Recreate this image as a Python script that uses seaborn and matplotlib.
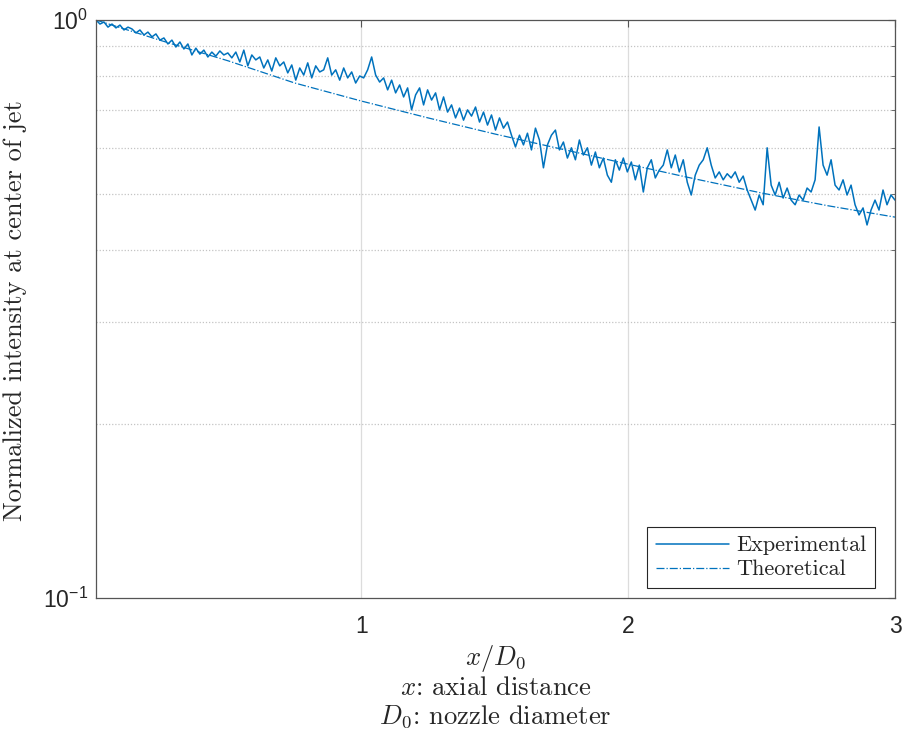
import numpy as np
import pandas as pd
import matplotlib
matplotlib.use("Agg")
import matplotlib.pyplot as plt
import seaborn as sns
from matplotlib.ticker import FixedLocator, LogLocator, NullFormatter

# Normalized centreline intensity measured along the jet axis
x_start, x_end = 0.005, 3.0
intensity = [
    1.000, 0.984, 0.992, 0.972, 0.984, 0.969, 0.980, 0.961, 0.972,
    0.965, 0.950, 0.961, 0.942, 0.953, 0.935, 0.946, 0.923,
    0.931, 0.909, 0.923, 0.898, 0.916, 0.891, 0.909, 0.870,
    0.894, 0.873, 0.887, 0.863, 0.880, 0.866, 0.884, 0.870,
    0.877, 0.860, 0.880, 0.846, 0.887, 0.833, 0.870, 0.853,
    0.863, 0.826, 0.853, 0.816, 0.860, 0.833, 0.846, 0.810,
    0.836, 0.787, 0.826, 0.803, 0.843, 0.794, 0.833, 0.813,
    0.820, 0.860, 0.803,
    0.820, 0.787, 0.826, 0.794, 0.813, 0.778, 0.800,
    0.794, 0.820, 0.863, 0.803, 0.781, 0.794,
    0.757, 0.787, 0.748, 0.772, 0.736, 0.763, 0.699,
    0.742, 0.763, 0.713, 0.757, 0.727, 0.748, 0.699, 0.736,
    0.693, 0.713, 0.677, 0.704, 0.671, 0.699, 0.682, 0.707, 0.666,
    0.693, 0.658, 0.685, 0.645, 0.677, 0.650, 0.666, 0.632,
    0.603,
    0.632, 0.608, 0.637, 0.596, 0.650, 0.620,
    0.555, 0.608, 0.632, 0.645, 0.596, 0.615, 0.577, 0.601, 0.573, 0.620, 0.584, 0.601, 0.561,
    0.591, 0.555, 0.577, 0.539, 0.524, 0.573, 0.550,
    0.577, 0.546, 0.568, 0.529, 0.561, 0.504, 0.555, 0.573, 0.533, 0.550, 0.561,
    0.596, 0.555, 0.584, 0.546, 0.573,
    0.524, 0.498, 0.539,
    0.561, 0.573, 0.601,
    0.561, 0.533, 0.546, 0.529, 0.542,
    0.533, 0.546, 0.524, 0.537,
    0.508, 0.488, 0.469, 0.498, 0.479,
    0.601,
    0.518, 0.498, 0.524, 0.492, 0.512, 0.488,
    0.479, 0.498, 0.488, 0.512,
    0.504, 0.529, 0.653,
    0.561, 0.539, 0.573, 0.518,
    0.508, 0.529, 0.498, 0.518, 0.479,
    0.460, 0.473, 0.442, 0.469,
    0.488, 0.469, 0.508, 0.479,
    0.498, 0.488,
]
x_over_d = np.linspace(x_start, x_end, len(intensity))

# Theoretical centreline decay
theory_x = [0.005, 0.25, 0.5, 0.75, 1.0, 1.25, 1.5, 1.75, 2.0, 2.25, 2.5, 2.75, 3.0]
theory_y = [1.000, 0.921, 0.850, 0.778, 0.724, 0.677, 0.635, 0.598, 0.563,
            0.531, 0.502, 0.477, 0.456]

x_ticks = [1, 2, 3]
x_tick_labels = ["1", "2", "3"]
y_major = [0.1, 1.0]

line_color = "#0072BD"
text_color = "#262626"
serif = ["cmr10", "DejaVu Serif"]

sns.set_theme(style="white")
plt.rcParams.update({
    "font.family": ["Liberation Sans", "DejaVu Sans"],
    "mathtext.fontset": "cm",
    "axes.unicode_minus": False,
    "xtick.labelsize": 16.5,
    "ytick.labelsize": 16.5,
})

fig = plt.figure(figsize=(9.06, 7.36), dpi=100)
ax = fig.add_axes([96 / 906, 1 - 598 / 736, 799 / 906, 578 / 736])

exp_df = pd.DataFrame({"x": x_over_d, "intensity": intensity})
theo_df = pd.DataFrame({"x": theory_x, "intensity": theory_y})

sns.lineplot(data=exp_df, x="x", y="intensity", ax=ax, color=line_color,
             linewidth=1.1, label="Experimental")
sns.lineplot(data=theo_df, x="x", y="intensity", ax=ax, color=line_color,
             linewidth=0.9, linestyle="-.", label="Theoretical")

ax.set_yscale("log")
ax.set_xlim(x_start, x_end)
ax.set_ylim(0.1, 1.0)
ax.set_xticks(x_ticks)
ax.set_xticklabels(x_tick_labels)
ax.yaxis.set_major_locator(FixedLocator(y_major))
ax.yaxis.set_minor_locator(LogLocator(base=10, subs=np.arange(2, 10)))
ax.yaxis.set_minor_formatter(NullFormatter())

ax.grid(True, which="major", axis="x", color="#dcdcdc", linewidth=0.9, linestyle="-")
ax.grid(True, which="minor", axis="y", color="#c4c4c4", linewidth=0.9, linestyle=(0, (1, 1.5)))
ax.set_axisbelow(True)

for side in ["left", "right", "top", "bottom"]:
    ax.spines[side].set_visible(True)
    ax.spines[side].set_color("#555555")
    ax.spines[side].set_linewidth(0.9)

ax.tick_params(axis="both", which="both", direction="in", top=True, right=True,
               colors="#555555", labelcolor=text_color)
ax.tick_params(axis="both", which="major", length=5, width=0.8, labelsize=16.5)
ax.tick_params(axis="y", which="minor", length=3, width=0.6)
ax.tick_params(axis="x", which="major", pad=12)
ax.tick_params(axis="y", which="major", pad=6)

ax.set_xlabel("")
ax.set_ylabel("Normalized intensity at center of jet", family=serif,
              fontsize=19, color=text_color)
ax.yaxis.set_label_coords(-0.086, 0.497)

cx = (96 + 895) / 2 / 906
fig.text(cx, 1 - 659 / 736, r"$x/D_0$", ha="center", va="center",
         fontsize=19.2, color=text_color)
fig.text(cx, 1 - 688 / 736, r"$x$: axial distance", ha="center",
         va="center", fontsize=19.2, color=text_color, family=serif)
fig.text(cx, 1 - 717 / 736, r"$D_0$: nozzle diameter", ha="center",
         va="center", fontsize=19.2, color=text_color, family=serif)

leg = ax.legend(loc="lower right", bbox_to_anchor=(0.975, 0.017),
                borderaxespad=0, prop={"family": serif, "size": 16},
                frameon=True, fancybox=False, framealpha=1,
                edgecolor=text_color, handlelength=3.3,
                labelspacing=0.2, borderpad=0.4, handletextpad=0.3)
leg.get_frame().set_linewidth(0.8)

fig.savefig("out.png", dpi=100)
